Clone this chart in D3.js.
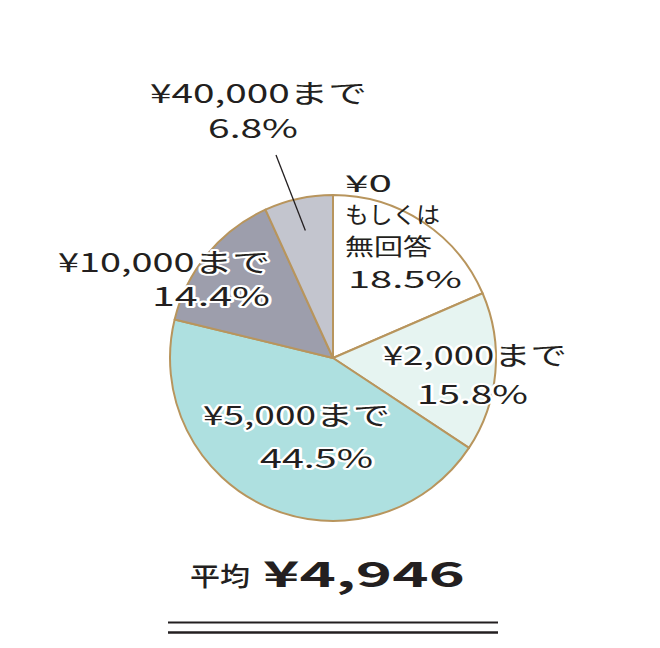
<!DOCTYPE html>
<html>
<head>
<meta charset="utf-8">
<script src="https://cdn.jsdelivr.net/npm/d3@7"></script>
<style>
  body { margin: 0; background: #fff; }
  text { font-family: "Noto Sans CJK JP", "Noto Sans", sans-serif; fill: #231f20; }
</style>
</head>
<body>
<script>
// data
var categories = ['¥0もしくは無回答', '¥2,000まで', '¥5,000まで', '¥10,000まで', '¥40,000まで'];
var nameLines = [['¥0', 'もしくは', '無回答'], ['¥2,000まで'], ['¥5,000まで'], ['¥10,000まで'], ['¥40,000まで']];
var percents = [18.5, 15.8, 44.5, 14.4, 6.8];
var colors = ['#ffffff', '#e6f4f1', '#aee0e0', '#9d9eac', '#c3c5ce'];
var averageLabel = '平均';
var averageValue = '¥4,946';

// label placement: [left x, right x, baseline y] per line
var labelLayout = [
    [[345, 392, 192], [345, 440, 223], [345, 432, 255], [348, 462, 288]],
    [[383, 567, 365], [417, 528, 404]],
    [[203, 390, 425], [260, 373, 468]],
    [[58, 270, 272], [152, 270, 306]],
    [[150, 367, 103], [208, 298, 138]]
];

var width = 660, height = 648;
var cx = 333, cy = 358, radius = 163;

var svg = d3.select('body').append('svg')
    .attr('width', width)
    .attr('height', height);

var pie = d3.pie().sort(null).value(function (d) { return d; });
var arc = d3.arc().innerRadius(0).outerRadius(radius);
var arcs = pie(percents);

var g = svg.append('g').attr('transform', 'translate(' + cx + ',' + cy + ')');

g.selectAll('path')
    .data(arcs)
    .enter().append('path')
    .attr('d', arc)
    .attr('fill', function (d, i) { return colors[i]; })
    .attr('stroke', '#b8955d')
    .attr('stroke-width', 2)
    .attr('stroke-linejoin', 'round');

// leader line for the small slice
var leadArc = d3.arc().innerRadius(radius * 0.8).outerRadius(radius * 0.8);
var inner = leadArc.centroid(arcs[4]);
svg.append('line')
    .attr('x1', 276)
    .attr('y1', 155)
    .attr('x2', cx + inner[0])
    .attr('y2', cy + inner[1])
    .attr('stroke', '#231f20')
    .attr('stroke-width', 1.3);

// labels
categories.forEach(function (c, i) {
    var lines = nameLines[i].concat([percents[i].toFixed(1) + '%']);
    lines.forEach(function (t, j) {
        var pos = labelLayout[i][j];
        var tight = i === 0;
        svg.append('text')
            .attr('x', pos[0])
            .attr('y', pos[2])
            .attr('textLength', pos[1] - pos[0])
            .attr('lengthAdjust', 'spacingAndGlyphs')
            .attr('font-size', tight ? 23 : 26)
            .attr('stroke', '#fff')
            .attr('stroke-width', tight ? 0 : 4)
            .attr('stroke-linejoin', 'round')
            .attr('paint-order', 'stroke')
            .text(t);
    });
});

// average
svg.append('text')
    .attr('x', 190)
    .attr('y', 586)
    .attr('textLength', 60)
    .attr('lengthAdjust', 'spacingAndGlyphs')
    .attr('font-size', 26)
    .attr('font-weight', 500)
    .text(averageLabel);

svg.append('text')
    .attr('x', 263)
    .attr('y', 587)
    .attr('textLength', 202)
    .attr('lengthAdjust', 'spacingAndGlyphs')
    .attr('font-size', 35)
    .attr('font-weight', 700)
    .attr('font-family', 'Lato, "Noto Sans", sans-serif')
    .text(averageValue);

svg.append('line')
    .attr('x1', 168).attr('x2', 498)
    .attr('y1', 622.5).attr('y2', 622.5)
    .attr('stroke', '#231f20')
    .attr('stroke-width', 1.8);

svg.append('line')
    .attr('x1', 168).attr('x2', 498)
    .attr('y1', 632.5).attr('y2', 632.5)
    .attr('stroke', '#231f20')
    .attr('stroke-width', 2.4);
</script>
</body>
</html>
